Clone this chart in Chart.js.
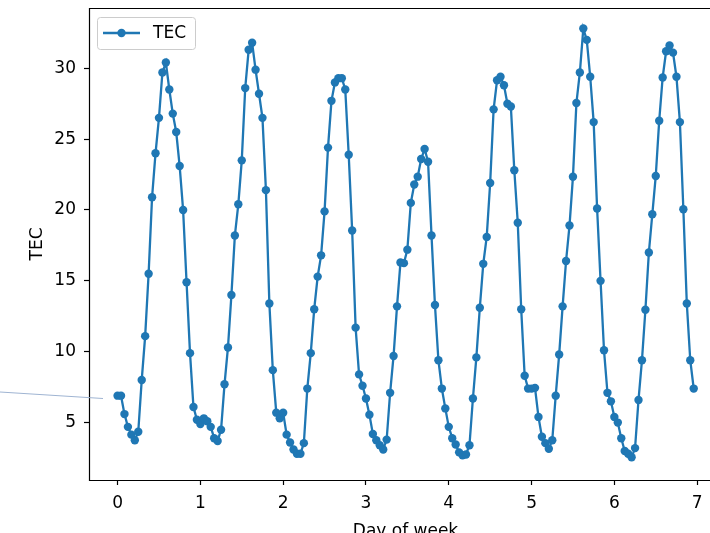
<!DOCTYPE html>
<html>
<head>
<meta charset="utf-8">
<script src="https://cdn.jsdelivr.net/npm/chart.js@4.4.0/dist/chart.umd.min.js"></script>
<style>
  html, body { margin: 0; padding: 0; background: #fff; overflow: hidden; }
  #clip { position: relative; width: 710px; height: 533px; overflow: hidden; }
  #clip canvas { position: absolute; left: 0; top: 0; }
</style>
</head>
<body>
<div id="clip"><canvas id="myChart" width="740" height="560"></canvas></div>
<script>
// Valeurs horaires de TEC, un tableau par jour (24 mesures)
const day0 = [6.9, 6.9, 5.6, 4.7, 4.15, 3.75, 4.35, 8.0, 11.1, 15.5, 20.9, 24.0, 26.5, 29.7, 30.4, 28.5, 26.8, 25.5, 23.1, 20.0, 14.9, 9.9, 6.1, 5.2];
const day1 = [4.9, 5.3, 5.1, 4.7, 3.9, 3.7, 4.5, 7.7, 10.3, 14.0, 18.2, 20.4, 23.5, 28.6, 31.3, 31.8, 29.9, 28.2, 26.5, 21.4, 13.4, 8.7, 5.7, 5.3];
const day2 = [5.7, 4.15, 3.6, 3.1, 2.8, 2.8, 3.55, 7.4, 9.9, 13.0, 15.3, 16.8, 19.9, 24.4, 27.7, 29.0, 29.3, 29.3, 28.5, 23.9, 18.55, 11.7, 8.4, 7.6];
const day3 = [6.7, 5.56, 4.2, 3.75, 3.4, 3.1, 3.8, 7.1, 9.7, 13.2, 16.3, 16.25, 17.2, 20.5, 21.8, 22.35, 23.6, 24.3, 23.4, 18.2, 13.3, 9.4, 7.4, 6.0];
const day4 = [4.7, 3.9, 3.45, 2.9, 2.7, 2.75, 3.4, 6.7, 9.6, 13.1, 16.2, 18.1, 21.9, 27.1, 29.15, 29.4, 28.8, 27.5, 27.3, 22.8, 19.1, 13.0, 8.3, 7.4];
const day5 = [7.4, 7.45, 5.4, 4.0, 3.55, 3.15, 3.75, 6.9, 9.8, 13.2, 16.4, 18.9, 22.35, 27.55, 29.7, 32.8, 32.0, 29.4, 26.2, 20.1, 15.0, 10.1, 7.1, 6.5];
const day6 = [5.4, 5.0, 3.9, 3.0, 2.8, 2.55, 3.2, 6.6, 9.4, 12.96, 17.0, 19.7, 22.4, 26.3, 29.35, 31.2, 31.6, 31.1, 29.4, 26.2, 20.05, 13.4, 9.4, 7.4];

const days = [day0, day1, day2, day3, day4, day5, day6];
const seriesLabel = 'TEC';
const xTicks = [0, 1, 2, 3, 4, 5, 6, 7];
const yTicks = [5, 10, 15, 20, 25, 30];

const blue = '#1f77b4';
const fontFamily = 'DejaVu Sans';
const fontSize = 17;

// Points (jour + heure/24, valeur)
const points = [];
days.forEach((vals, d) => {
    vals.forEach((v, h) => points.push({ x: d + h / 24, y: v }));
});

// Cadre noir (gauche, haut, bas) ; le côté droit est hors capture
const framePlugin = {
    id: 'frame',
    afterDraw(chart) {
        const { ctx, chartArea: a } = chart;
        ctx.save();
        ctx.strokeStyle = '#000';
        ctx.lineWidth = 1.2;
        ctx.beginPath();
        ctx.moveTo(a.right, a.top + 0.5);
        ctx.lineTo(a.left + 0.5, a.top + 0.5);
        ctx.lineTo(a.left + 0.5, a.bottom + 0.5);
        ctx.lineTo(a.right, a.bottom + 0.5);
        ctx.stroke();
        ctx.restore();
    }
};

// Légende façon matplotlib, en haut à gauche dans la zone
const legendPlugin = {
    id: 'mplLegend',
    afterDraw(chart) {
        const { ctx, chartArea: a } = chart;
        const ds = chart.data.datasets[0];
        const x = a.left + 8, y = a.top + 9, w = 98, h = 32;
        ctx.save();
        ctx.fillStyle = 'rgba(255,255,255,0.8)';
        ctx.strokeStyle = '#cccccc';
        ctx.lineWidth = 1;
        ctx.beginPath();
        ctx.roundRect(x + 0.5, y + 0.5, w, h, 3);
        ctx.fill();
        ctx.stroke();
        const cy = y + h / 2;
        ctx.strokeStyle = ds.borderColor;
        ctx.lineWidth = ds.borderWidth;
        ctx.beginPath();
        ctx.moveTo(x + 6, cy);
        ctx.lineTo(x + 43, cy);
        ctx.stroke();
        ctx.fillStyle = ds.borderColor;
        ctx.beginPath();
        ctx.arc(x + 24.5, cy, ds.pointRadius, 0, Math.PI * 2);
        ctx.fill();
        ctx.fillStyle = '#000';
        ctx.font = fontSize + 'px ' + fontFamily;
        ctx.textBaseline = 'middle';
        ctx.fillText(ds.label, x + 56, cy + 1);
        ctx.restore();
    }
};

// Petit trait de pointeur à gauche (présent sur la capture)
const pointerPlugin = {
    id: 'pointer',
    afterDraw(chart) {
        const ctx = chart.ctx;
        ctx.save();
        ctx.strokeStyle = '#9fb4d2';
        ctx.lineWidth = 1;
        ctx.beginPath();
        ctx.moveTo(0, 392);
        ctx.lineTo(103, 398.5);
        ctx.stroke();
        ctx.restore();
    }
};

Chart.defaults.font.family = fontFamily;
Chart.defaults.font.size = fontSize;
Chart.defaults.color = '#000';

const ctx = document.getElementById('myChart').getContext('2d');
const myChart = new Chart(ctx, {
    type: 'line',
    data: {
        datasets: [{
            label: seriesLabel,
            data: points,
            borderColor: blue,
            backgroundColor: blue,
            borderWidth: 2.3,
            pointRadius: 4.2,
            pointBorderWidth: 0,
            pointBackgroundColor: blue,
            tension: 0,
            fill: false
        }]
    },
    options: {
        responsive: false,
        animation: false,
        layout: { padding: { top: 8, right: 18, left: 0, bottom: 0 } },
        plugins: { legend: { display: false }, tooltip: { enabled: false } },
        scales: {
            x: {
                type: 'linear',
                min: -0.345,
                max: 7.3,
                afterBuildTicks: axis => { axis.ticks = xTicks.map(v => ({ value: v })); },
                afterFit: axis => { axis.height = 80; axis.paddingLeft = 0; axis.paddingRight = 0; },
                ticks: { padding: 8, maxRotation: 0, callback: v => v },
                grid: { drawOnChartArea: false, tickLength: 5, tickColor: '#000', tickWidth: 1.2 },
                border: { display: false },
                title: { display: true, text: 'Day of week', padding: { top: 0, bottom: 18 } }
            },
            y: {
                type: 'linear',
                min: 0.95,
                max: 34.25,
                afterBuildTicks: axis => { axis.ticks = yTicks.map(v => ({ value: v })); },
                afterFit: axis => { axis.width = 89; axis.paddingTop = 0; axis.paddingBottom = 0; },
                ticks: { padding: 8, callback: v => v },
                grid: { drawOnChartArea: false, tickLength: 5, tickColor: '#000', tickWidth: 1.2 },
                border: { display: false },
                title: { display: true, text: 'TEC', padding: { top: 27, bottom: 0 } }
            }
        }
    },
    plugins: [framePlugin, legendPlugin, pointerPlugin]
});
</script>
</body>
</html>
